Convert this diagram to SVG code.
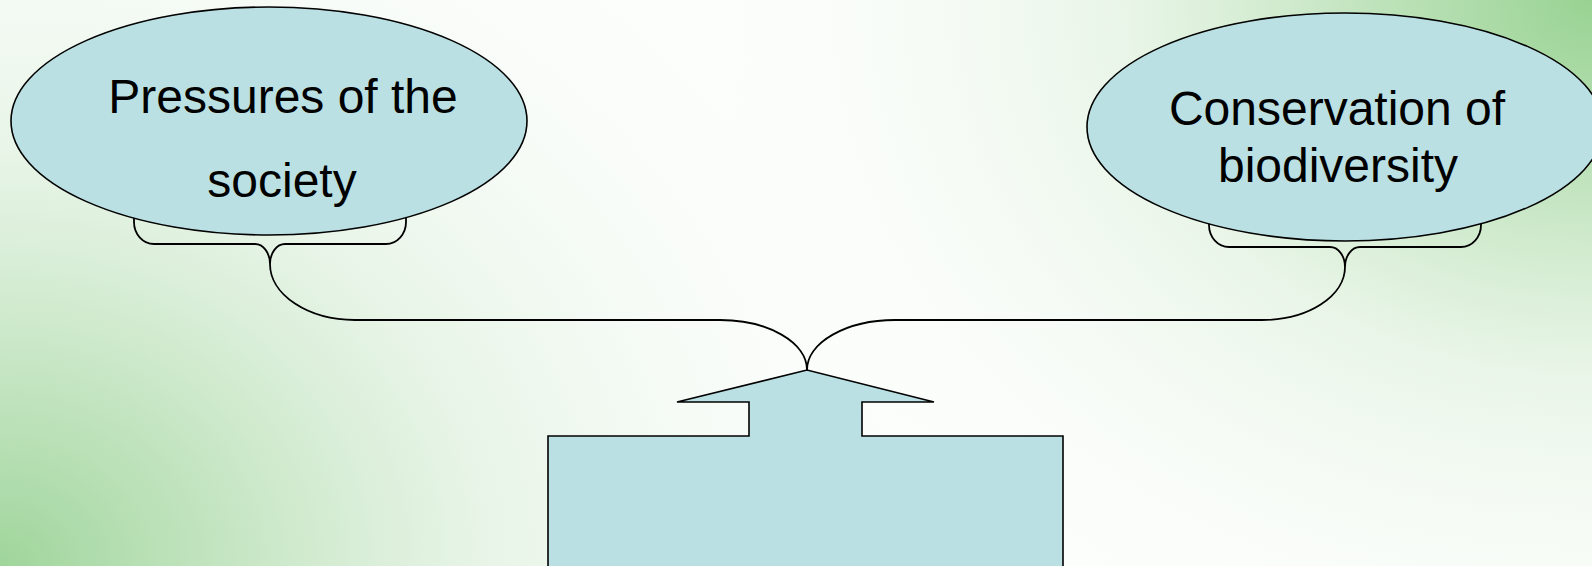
<svg xmlns="http://www.w3.org/2000/svg" width="1592" height="566" viewBox="0 0 1592 566">
  <defs>
    <radialGradient id="bgBL" gradientUnits="userSpaceOnUse" cx="0" cy="566" r="1000" gradientTransform="translate(0,566) scale(1,0.85) translate(0,-566)">
      <stop offset="0" stop-color="#9FD59B" stop-opacity="1"/>
      <stop offset="0.22" stop-color="#BDE2BA" stop-opacity="0.9"/>
      <stop offset="0.5" stop-color="#DCEFDB" stop-opacity="0.6"/>
      <stop offset="1" stop-color="#FFFFFF" stop-opacity="0"/>
    </radialGradient>
    <radialGradient id="bgTR" gradientUnits="userSpaceOnUse" cx="1592" cy="0" r="950" gradientTransform="translate(1592,0) scale(1,0.8) translate(-1592,0)">
      <stop offset="0" stop-color="#98D292" stop-opacity="1"/>
      <stop offset="0.22" stop-color="#B6DFB2" stop-opacity="0.9"/>
      <stop offset="0.5" stop-color="#DDF0DB" stop-opacity="0.6"/>
      <stop offset="1" stop-color="#FFFFFF" stop-opacity="0"/>
    </radialGradient>
  </defs>
  <style>
    .shape { fill: #BAE0E3; stroke: #000000; stroke-width: 1.6; }
    .conn { fill: none; stroke: #000000; stroke-width: 1.8; }
    .label { font-family: "Liberation Sans", Arial, sans-serif; font-size: 48px; fill: #000000; text-anchor: middle; }
  </style>
  <rect x="0" y="0" width="1592" height="566" fill="#FCFEFC"/>
  <rect x="0" y="0" width="1592" height="566" fill="url(#bgBL)"/>
  <rect x="0" y="0" width="1592" height="566" fill="url(#bgTR)"/>

  <g id="connectors">
    <path class="conn" d="M134,212 L134,222 A20,22 0 0 0 154,244 L255,244 A15,20 0 0 1 270,264 A15,20 0 0 1 285,244 L386,244 A20,22 0 0 0 406,222 L406,212"/>
    <path class="conn" d="M270,264 A85,56 0 0 0 355,320 L720,320 A87,50 0 0 1 807,370"/>
    <path class="conn" d="M1209,215 L1209,225 A20,22 0 0 0 1229,247 L1330,247 A15,20 0 0 1 1345,267 A15,20 0 0 1 1360,247 L1461,247 A20,22 0 0 0 1481,225 L1481,215"/>
    <path class="conn" d="M1345,267 A83,53 0 0 1 1262,320 L895,320 A88,50 0 0 0 807,370"/>
  </g>

  <g id="node-pressures">
    <ellipse class="shape" cx="269" cy="121" rx="258" ry="114"/>
    <text class="label" x="283" y="113">Pressures of the</text>
    <text class="label" x="282" y="197">society</text>
  </g>

  <g id="node-conservation">
    <ellipse class="shape" cx="1345" cy="127" rx="258" ry="114"/>
    <text class="label" x="1337" y="125">Conservation of</text>
    <text class="label" x="1338" y="182">biodiversity</text>
  </g>

  <g id="node-arrow">
    <path class="shape" d="M548,580 L548,436 L749,436 L749,402 L677,402 L807,370 L934,402 L862,402 L862,436 L1063,436 L1063,580 Z"/>
  </g>
</svg>
